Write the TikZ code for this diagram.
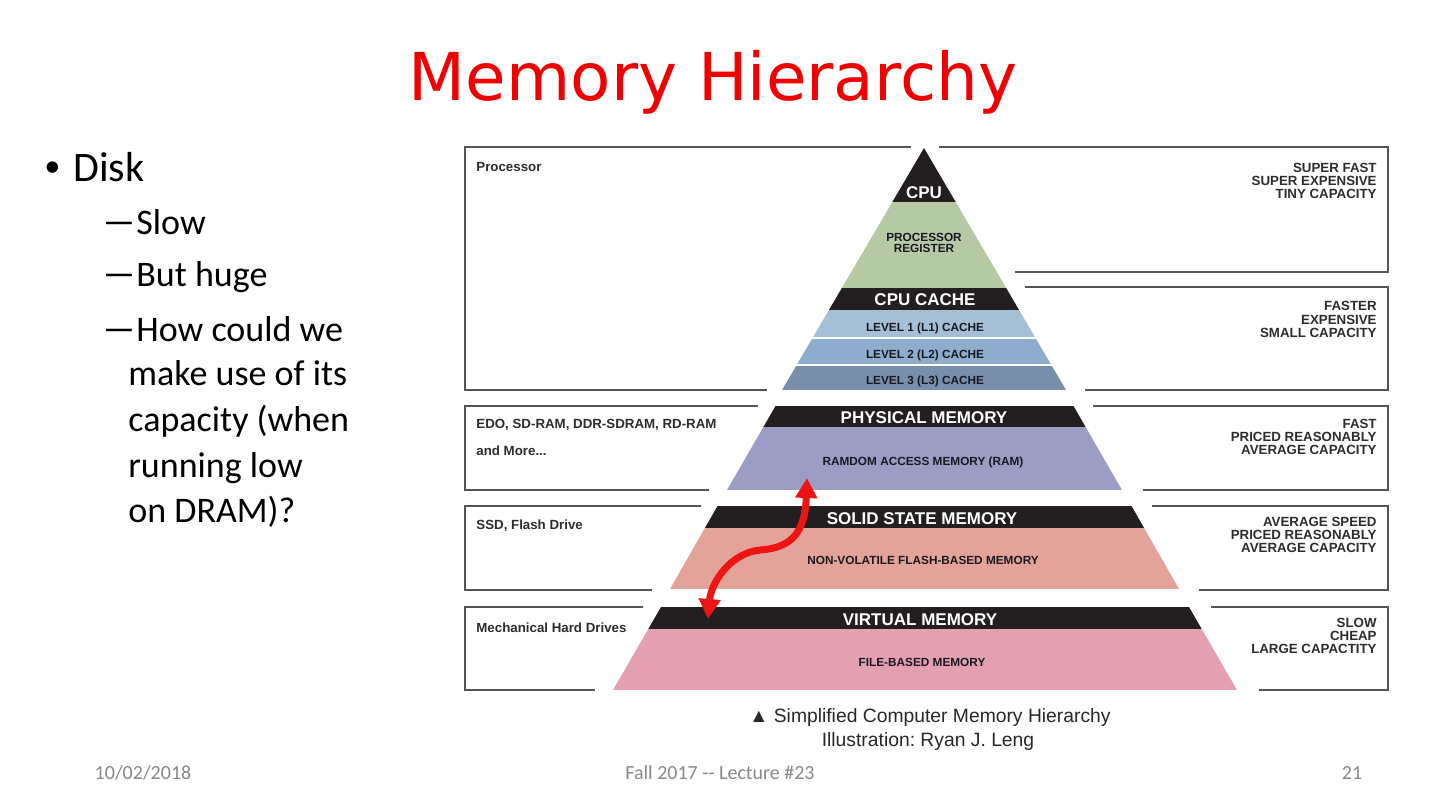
\documentclass[tikz,border=0pt]{standalone}
\usepackage{fontspec}
\setmainfont{Carlito}
\newfontfamily\arialf{Liberation Sans}
\newfontfamily\titlef{DejaVu Sans}
\usetikzlibrary{arrows.meta}
\definecolor{titlered}{RGB}{240,0,0}
\definecolor{bandblack}{RGB}{35,31,32}
\definecolor{cpugreen}{RGB}{181,201,164}
\definecolor{lone}{RGB}{165,192,214}
\definecolor{ltwo}{RGB}{142,173,205}
\definecolor{lthree}{RGB}{120,143,172}
\definecolor{ramblue}{RGB}{155,157,196}
\definecolor{flashred}{RGB}{228,163,153}
\definecolor{filepink}{RGB}{228,160,176}
\definecolor{framegray}{RGB}{85,85,85}
\definecolor{labeltext}{RGB}{45,45,45}
\definecolor{innertext}{RGB}{25,25,35}
\definecolor{arrowred}{RGB}{237,20,20}
\definecolor{footgray}{RGB}{137,137,137}
\definecolor{captext}{RGB}{40,40,40}
\frenchspacing
\begin{document}
\begin{tikzpicture}[x=0.5pt,y=-0.5pt,
  frame/.style={draw=framegray, line width=1pt},
  bandlabel/.style={font=\arialf\bfseries\fontsize{8.5}{10}\selectfont, text=white, inner sep=0, text height=.716em, text depth=0pt},
  innerlabel/.style={font=\arialf\bfseries\fontsize{5.9}{5.5}\selectfont, text=innertext, inner sep=0, text height=.716em, text depth=0pt},
  leftlabel/.style={font=\arialf\bfseries\fontsize{6.65}{6.5}\selectfont, text=labeltext, inner sep=0, anchor=base west},
  rightlabel/.style={font=\arialf\bfseries\fontsize{6.65}{6.6}\selectfont, text=labeltext, inner sep=0, anchor=east, align=right},
  bodytext/.style={font=\fontsize{18}{23}\selectfont, inner sep=0, anchor=base west},
  dashmark/.style={font=\fontsize{18}{23}\selectfont, inner sep=0, anchor=base west},
  foot/.style={font=\fontsize{10}{12}\selectfont, text=footgray, inner sep=0},
  captionline/.style={font=\arialf\fontsize{9.65}{11}\selectfont, text=captext, inner sep=0}
]
\useasboundingbox[fill=white] (0,0) rectangle (1440,810);

% Title
\node[font=\titlef\fontsize{33}{40}\selectfont, text=titlered, anchor=base, inner sep=0] (title) at (713,100) {Memory Hierarchy};

% Bullets
\node[font=\arialf\fontsize{21}{25}\selectfont, anchor=base west, inner sep=0] (bul) at (45,181) {•};
\node[font=\fontsize{21}{25}\selectfont, anchor=base west, inner sep=0] (disk) at (73,181) {Disk};
\node[dashmark] (d1) at (101,234) {\scalebox{2}[1.1]{–}};
\node[bodytext] (t1) at (136,234) {Slow};
\node[dashmark] (d2) at (101,286) {\scalebox{2}[1.1]{–}};
\node[bodytext] (t2) at (136,286) {But huge};
\node[dashmark] (d3) at (101,341) {\scalebox{2}[1.1]{–}};
\node[bodytext] (t3) at (136,341) {How could we};
\node[bodytext] (t4) at (128,385) {make use of its};
\node[bodytext] (t5) at (128,431) {capacity (when};
\node[bodytext] (t6) at (128,477) {running low};
\node[bodytext] (t7) at (128,522) {on DRAM)?};

% Frames
\draw[frame] (911,147) -- (465,147) -- (465,390) -- (767,390);
\draw[frame] (939,147) -- (1388,147) -- (1388,272) -- (1015,272);
\draw[frame] (1025,287) -- (1388,287) -- (1388,390) -- (1085,390);
\draw[frame] (758,406) -- (465,406) -- (465,490) -- (709,490);
\draw[frame] (1093,406) -- (1388,406) -- (1388,490) -- (1143,490);
\draw[frame] (701,506) -- (465,506) -- (465,590) -- (652,590);
\draw[frame] (1152,506) -- (1388,506) -- (1388,590) -- (1199,590);
\draw[frame] (643,607) -- (465,607) -- (465,690) -- (595,690);
\draw[frame] (1211,607) -- (1388,607) -- (1388,690) -- (1259,690);

% Section 1: processor and cache
\begin{scope}
\clip (924,148) -- (1066,390) -- (782,390) -- cycle;
\fill[bandblack] (770,140) rectangle (1080,202);
\fill[cpugreen] (770,202) rectangle (1080,288);
\fill[bandblack] (770,288) rectangle (1080,310);
\fill[lone] (770,310) rectangle (1080,337);
\fill[ltwo] (770,339) rectangle (1080,364);
\fill[lthree] (770,366) rectangle (1080,390);
\end{scope}
% Section 2: physical memory
\begin{scope}
\clip (775.5,406) -- (1073.5,406) -- (1122,490) -- (727,490) -- cycle;
\fill[bandblack] (700,400) rectangle (1150,427);
\fill[ramblue] (700,427) rectangle (1150,490);
\end{scope}
% Section 3: solid state
\begin{scope}
\clip (717.5,506) -- (1131.5,506) -- (1179,589) -- (670,589) -- cycle;
\fill[bandblack] (650,500) rectangle (1200,527.5);
\fill[flashred] (650,527.5) rectangle (1200,589);
\end{scope}
% Section 4: virtual memory
\begin{scope}
\clip (661,607) -- (1189,607) -- (1237,690) -- (613,690) -- cycle;
\fill[bandblack] (600,600) rectangle (1250,629);
\fill[filepink] (600,629) rectangle (1250,690);
\end{scope}

% Pyramid texts
\node[bandlabel] (cpu) at (924,191) {CPU};
\node[innerlabel, align=center] (reg) at (924,245.5) {PROCESSOR\\REGISTER};
\node[bandlabel] (cache) at (925,298.5) {CPU CACHE};
\node[innerlabel] (l1) at (925,324.5) {LEVEL 1 (L1) CACHE};
\node[innerlabel] (l2) at (925,351) {LEVEL 2 (L2) CACHE};
\node[innerlabel] (l3) at (925,377.5) {LEVEL 3 (L3) CACHE};
\node[bandlabel] (phys) at (924,416.5) {PHYSICAL MEMORY};
\node[innerlabel] (ram) at (923,458) {RAMDOM ACCESS MEMORY (RAM)};
\node[bandlabel] (ssd) at (922,517) {SOLID STATE MEMORY};
\node[innerlabel] (flash) at (923,557.5) {NON-VOLATILE FLASH-BASED MEMORY};
\node[bandlabel] (virt) at (920,618) {VIRTUAL MEMORY};
\node[innerlabel] (file) at (922,659) {FILE-BASED MEMORY};

% Left labels
\node[leftlabel] (proc) at (476,171) {Processor};
\node[leftlabel] (edo) at (476,428) {EDO, SD-RAM, DDR-SDRAM, RD-RAM};
\node[leftlabel] (more) at (476,455.5) {and More...};
\node[leftlabel] (flashdrive) at (476,529) {SSD, Flash Drive};
\node[leftlabel] (mech) at (476,632) {Mechanical Hard Drives};

% Right labels
\node[rightlabel] (r1) at (1377,181) {SUPER FAST\\SUPER EXPENSIVE\\TINY CAPACITY};
\node[rightlabel] (r2) at (1377,319.5) {FASTER\\EXPENSIVE\\SMALL CAPACITY};
\node[rightlabel] (r3) at (1377,437) {FAST\\PRICED REASONABLY\\AVERAGE CAPACITY};
\node[rightlabel] (r4) at (1377,535) {AVERAGE SPEED\\PRICED REASONABLY\\AVERAGE CAPACITY};
\node[rightlabel] (r5) at (1377,636) {SLOW\\CHEAP\\LARGE CAPACTITY};

% Red double arrow between RAM and disk
\coordinate (atop) at (807,478);
\coordinate (abot) at (708,619);
\draw[arrowred, line width=3.5pt, {Triangle[width=10.5pt,length=10pt]}-{Triangle[width=10.5pt,length=10pt]}]
  (atop) .. controls (805,532) and (792,548) .. (760,550) .. controls (730,553) and (711,583) .. (abot);

% Caption
\node[captionline] (cap1) at (930,717) {▲ Simplified Computer Memory Hierarchy};
\node[captionline] (cap2) at (928,741) {Illustration: Ryan J. Leng};

% Footer
\node[foot] (date) at (143,773) {10/02/2018};
\node[foot] (lect) at (720,773) {Fall 2017 -{}- Lecture \#23};
\node[foot] (page) at (1352,773) {21};
\end{tikzpicture}
\end{document}
